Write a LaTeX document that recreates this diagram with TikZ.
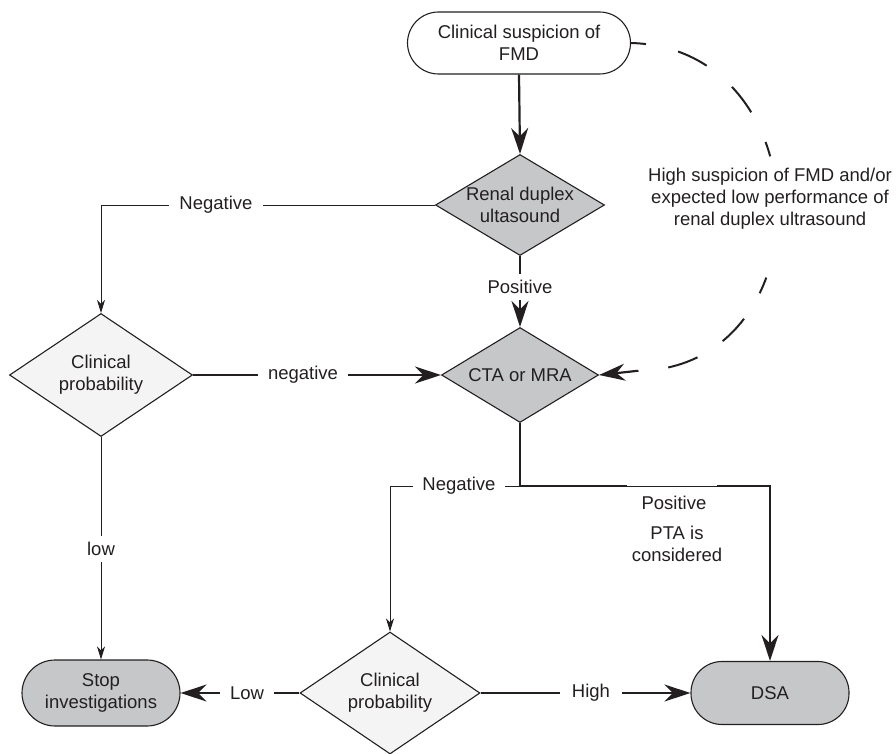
\documentclass[tikz,border=0pt]{standalone}
\usepackage{fontspec}
\setmainfont{Liberation Sans}
\usetikzlibrary{shapes.geometric,arrows.meta}
\definecolor{ink}{HTML}{231F20}
\definecolor{boxgray}{HTML}{C6C7C9}
\definecolor{probfill}{HTML}{F4F4F5}
\tikzset{
  tipT/.tip={Stealth[length=26pt,width=17pt,inset=8.5pt]},
  tipS/.tip={Stealth[length=13pt,width=8pt,inset=4pt]}
}
\begin{document}
\begin{tikzpicture}[x=1pt,y=-1pt,
  every node/.style={font=\fontsize{18.5}{22}\selectfont, text=ink},
  stadium/.style={draw=ink, line width=1.1pt, rectangle, rounded corners=31pt, align=center},
  dia/.style={draw=ink, line width=1.1pt, diamond, inner sep=-4pt, align=center},
  lbl/.style={inner xsep=10pt, inner ysep=6pt},
  thk/.style={draw=ink, line width=2.2pt},
  thn/.style={draw=ink, line width=1pt},
  dsh/.style={draw=ink, line width=2pt}
]
\useasboundingbox (0,0) rectangle (896,754);

% main nodes
\node[stadium, fill=white, minimum width=223pt, minimum height=62pt] (top) at (519,43) {Clinical suspicion of\\FMD};
\node[dia, fill=boxgray, shape aspect=1.67, minimum width=169pt, minimum height=101pt] (renal) at (520,205) {Renal duplex\\ultasound};
\node[dia, fill=boxgray, shape aspect=1.65, minimum width=157pt, minimum height=95pt] (cta) at (520,375) {CTA or MRA};
\node[dia, fill=probfill, shape aspect=1.49, minimum width=183pt, minimum height=123pt] (left) at (101,375) {Clinical\\probability};
\node[dia, fill=probfill, shape aspect=1.48, minimum width=180pt, minimum height=122pt] (bot) at (390,693) {Clinical\\probability};
\node[stadium, fill=boxgray, minimum width=158pt, minimum height=66pt, rounded corners=33pt] (stop) at (101,693) {Stop\\investigations};
\node[stadium, fill=boxgray, minimum width=158pt, minimum height=63pt] (dsa) at (770,693) {DSA};

% labels
\node[lbl] (negT) at (216,205) {Negative};
\node[lbl] (posT) at (520,287) {Positive};
\node[lbl] (negM) at (303,375) {negative};
\node[lbl] (lowL) at (101,549) {low};
\node[lbl, inner xsep=9pt] (negB) at (459,486) {Negative};
\node[lbl] (posB) at (674,503) {Positive};
\node[lbl, align=center] (pta) at (677,544) {PTA is\\considered};
\node[lbl] (lowB) at (247,693) {Low};
\node[lbl, inner xsep=12pt] (highB) at (591,693) {High};
\node[align=center] (susp) at (770,199) {High suspicion of FMD and/or\\expected low performance of\\renal duplex ultrasound};

% connectors
\draw[thk, -tipT] (top.south) -- (renal.north);
\draw[thn] (renal.west) -- (negT.east);
\draw[thn, -tipS] (negT.west) -| (left.north);
\draw[thk] (renal.south) -- (posT.north);
\draw[thk, -tipT] (posT.south) -- (cta.north);
\draw[thk] (left.east) -- (negM.west);
\draw[thk, -tipT] (negM.east) -- (cta.west);
\draw[thn] (left.south) -- (lowL.north);
\draw[thn, -tipS] (lowL.south) -- (stop.north);
\draw[thk] (bot.west) -- (lowB.east);
\draw[thk, -tipT] (lowB.west) -- (stop.east);
\draw[thk] (bot.east) -- (highB.west);
\draw[thk, -tipT] (highB.east) -- (dsa.west);

\coordinate (jn) at (520,486);
\coordinate (r1) at (627,486);
\coordinate (r2) at (717,486);
\draw[thk] (cta.south) -- (jn) -- (r1);
\draw[thn] (r1) -- (r2);
\draw[thk, -tipT] (r2) -| (dsa.north);
\draw[thn] (jn) -- (negB.east);
\draw[thn, -tipS] (negB.west) -| (bot.north);

% dashed bypass
\coordinate (dA) at (770.2,156.3);
\coordinate (dB) at (766.3,277.6);
\coordinate (dC) at (636,371);
\draw[dsh, dash pattern=on 32pt off 33pt, dash phase=17pt] (top.east) .. controls (706.4,45.1) and (753.1,95.7) .. (dA);
\draw[dsh, dash pattern=on 31pt off 30pt, dash phase=14pt] (dB) .. controls (747,330.1) and (703.5,370.6) .. (dC);
\draw[thk, -tipT] (dC) -- (cta.east);
\end{tikzpicture}
\end{document}
